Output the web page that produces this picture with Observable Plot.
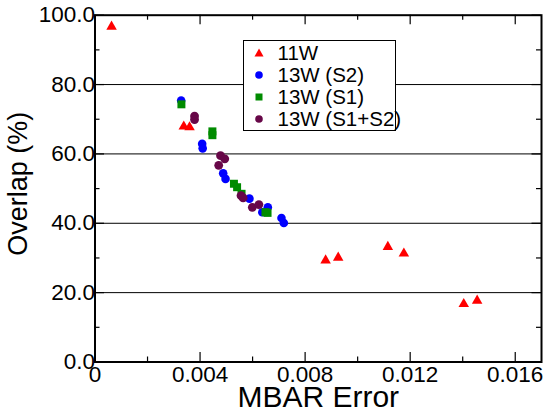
<!DOCTYPE html>
<html><head><meta charset="utf-8">
<script src="https://cdn.jsdelivr.net/npm/d3@7"></script>
<script src="https://cdn.jsdelivr.net/npm/@observablehq/plot@0.6"></script>
<style>
body{margin:0;background:#fff;}
#wrap{position:relative;width:547px;height:413px;font-family:"Liberation Sans",Arial,Helvetica,sans-serif;color:#000;}
#legend{position:absolute;left:243px;top:40px;width:151px;height:89px;border:1.5px solid #000;background:#fff;}
.row{position:absolute;height:22px;line-height:22px;font-size:20.5px;white-space:nowrap;}
.mk{position:absolute;}
</style></head><body><div id="wrap"></div>
<script>
// ---- data ----
const series = ["11W", "13W (S2)", "13W (S1)", "13W (S1+S2)"];
const colors = ["#ff0000", "#0000ff", "#008b00", "#670748"];
const symbols = ["triangle", "circle", "square", "circle"];

const x11W = [0.00063, 0.00338, 0.00360, 0.00878, 0.00926, 0.01115, 0.01176, 0.01404, 0.01455];
const y11W = [96.7, 67.9, 67.7, 29.3, 30.1, 33.2, 31.3, 16.7, 17.7];

const xS2 = [0.00328, 0.00408, 0.00410, 0.00488, 0.00497, 0.00588, 0.00637, 0.00658, 0.00710, 0.00719];
const yS2 = [75.4, 62.9, 61.6, 54.4, 52.8, 47.1, 43.2, 44.6, 41.5, 40.1];

const xS1 = [0.00329, 0.00447, 0.00447, 0.00529, 0.00541, 0.00558, 0.00649, 0.00657];
const yS1 = [74.3, 66.5, 65.4, 51.4, 50.4, 48.5, 43.2, 43.0];

const xS12 = [0.00379, 0.00379, 0.00478, 0.00494, 0.00471, 0.00556, 0.00564, 0.00599, 0.00624];
const yS12 = [70.9, 69.9, 59.5, 58.6, 56.7, 48.0, 47.3, 44.6, 45.4];

const xMajor = [0, 0.004, 0.008, 0.012, 0.016];
const xMinor = [0.002, 0.006, 0.010, 0.014];
const yMajor = [0, 20, 40, 60, 80, 100];
const yMinor = [10, 30, 50, 70, 90];
const yGrid = [20, 40, 60, 80];

// ---- layout ----
const W = 547, H = 413, mL = 94.5, mR = 6, mT = 14.7, mB = 51.5;
const iw = W - mL - mR, ih = H - mT - mB;
const font = '"Liberation Sans", Arial, Helvetica, sans-serif';

const toRows = (xs, ys) => xs.map((x, i) => ({x, y: ys[i]}));
const sets = [toRows(x11W, y11W), toRows(xS2, yS2), toRows(xS1, yS1), toRows(xS12, yS12)];
const radii = [3.9, 4.3, 4.5, 4.4];

const tickMarks = (vals, len) => [
  Plot.tickX(vals, {x: d => d, insetTop: ih - len, stroke: "#000", strokeWidth: 1.2}),
  Plot.tickX(vals, {x: d => d, insetBottom: ih - len, stroke: "#000", strokeWidth: 1.2}),
];
const tickMarksY = (vals, len) => [
  Plot.tickY(vals, {y: d => d, insetRight: iw - len, stroke: "#000", strokeWidth: 1.2}),
  Plot.tickY(vals, {y: d => d, insetLeft: iw - len, stroke: "#000", strokeWidth: 1.2}),
];

const chart = Plot.plot({
  width: W, height: H,
  marginLeft: mL, marginRight: mR, marginTop: mT, marginBottom: mB,
  style: {fontFamily: font, fontSize: "22px", color: "#000", background: "#fff", overflow: "visible"},
  x: {domain: [0, 0.017]},
  y: {domain: [0, 100]},
  marks: [
    Plot.ruleY(yGrid, {stroke: "#000", strokeWidth: 1}),
    ...tickMarks(xMajor, 9.5), ...tickMarks(xMinor, 5),
    ...tickMarksY(yMajor, 9.5), ...tickMarksY(yMinor, 5),
    ...sets.map((d, i) => Plot.dot(d, {x: "x", y: "y", symbol: () => symbols[i], fill: colors[i], r: radii[i], stroke: "none"})),
    Plot.frame({stroke: "#000", strokeWidth: 2}),
    Plot.axisX({ticks: xMajor, tickSize: 0, tickPadding: 4, fontSize: 22.5, label: null,
      tickFormat: d => d === 0 ? "0" : d.toFixed(3)}),
    Plot.axisY({ticks: yMajor, tickSize: 0, tickPadding: 0, fontSize: 22.5, label: null,
      tickFormat: d => d.toFixed(1)}),
    Plot.text(["MBAR Error"], {text: d => d, frameAnchor: "bottom", lineAnchor: "middle", textAnchor: "middle", dy: 35.5, fontSize: 30}),
    Plot.text(["Overlap (%)"], {text: d => d, frameAnchor: "left", lineAnchor: "middle", textAnchor: "middle", dx: -76.5, dy: -4.8, rotate: -90, fontSize: 27}),
  ]
});

const wrap = document.getElementById("wrap");
wrap.appendChild(chart);

// ---- legend ----
const legend = document.createElement("div");
legend.id = "legend";
const shapes = {
  triangle: c => `<polygon points="7,2.5 11.5,10.5 2.5,10.5" fill="${c}"/>`,
  circle: c => `<circle cx="7" cy="7" r="3.8" fill="${c}"/>`,
  square: c => `<rect x="3.5" y="3.5" width="7" height="7" fill="${c}"/>`,
};
series.forEach((s, i) => {
  const cy = 11.5 + 22 * i;
  const mk = document.createElement("div");
  mk.className = "mk";
  mk.style.left = (14.7 - 7) + "px";
  mk.style.top = (cy - 7) + "px";
  mk.innerHTML = `<svg width="14" height="14">${shapes[symbols[i]](colors[i])}</svg>`;
  legend.appendChild(mk);
  const row = document.createElement("div");
  row.className = "row";
  row.style.left = "33.5px";
  row.style.top = (cy - 11) + "px";
  row.textContent = s;
  legend.appendChild(row);
});
wrap.appendChild(legend);
</script>
</body></html>
